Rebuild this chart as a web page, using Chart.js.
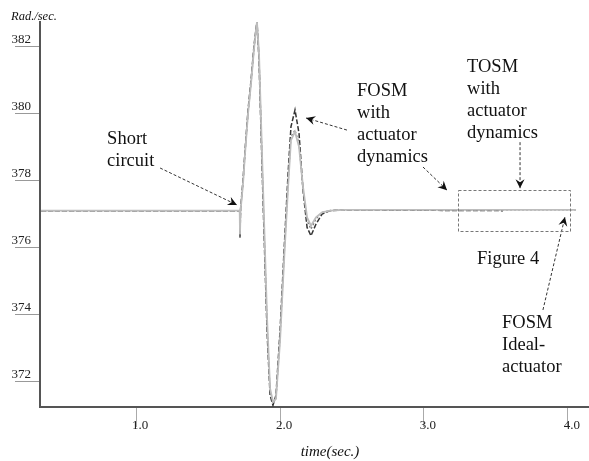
<!DOCTYPE html>
<html>
<head>
<meta charset="utf-8">
<script src="https://cdn.jsdelivr.net/npm/chart.js@4.4.1/dist/chart.umd.min.js"></script>
<style>
  body { margin: 0; background: #fff; }
  canvas { display: block; }
</style>
</head>
<body>
<canvas id="graph" width="589" height="461"></canvas>
<script>
// time axis (sec.)
const times = [0.34, 1.72, 1.722, 1.726, 1.743, 1.757, 1.778, 1.799, 1.819, 1.840,
  1.854, 1.882, 1.910, 1.931, 1.951, 1.972, 2.000, 2.028, 2.056, 2.076,
  2.104, 2.132, 2.160, 2.188, 2.215, 2.250, 2.292, 2.347, 2.451, 3.549, 4.056];

// speed (Rad./sec.)
const fosmActuator = [377.1, 377.1, 376.3, 377.15, 378.0, 378.9, 380.1, 381.0, 382.0, 382.75,
  381.6, 377.4, 373.5, 371.6, 371.3, 371.6, 373.5, 375.9, 378.2, 379.6,
  380.1, 379.4, 377.7, 376.6, 376.35, 376.7, 377.0, 377.1, 377.12, 377.1, null];
const tosmActuator = [377.1, 377.1, 376.3, 377.15, 377.9, 378.8, 380.0, 380.9, 381.9, 382.7,
  381.7, 377.6, 373.7, 371.7, 371.35, 371.5, 373.3, 375.7, 377.9, 379.3,
  379.5, 379.1, 377.7, 376.8, 376.55, 376.85, 377.05, 377.1, 377.12, 377.12, 377.12];
const fosmIdeal = [377.1, 377.1, 376.4, 377.1, 377.9, 378.8, 380.0, 380.9, 381.9, 382.72,
  381.8, 377.8, 373.9, 371.8, 371.4, 371.5, 373.2, 375.6, 377.8, 379.2,
  379.45, 379.0, 377.8, 376.9, 376.65, 376.9, 377.05, 377.1, 377.12, 377.12, 377.12];

const xTicks = [1, 2, 3, 4];
const yTicks = [372, 374, 376, 378, 380, 382];

const serif = 'Liberation Serif';

function points(vals) {
  return times.map((t, i) => ({ x: t, y: vals[i] }));
}

// annotations, placed in data units
const notes = [
  { text: ['Short', 'circuit'], x: 0.799, y: 379.23 },
  { text: ['FOSM', 'with', 'actuator', 'dynamics'], x: 2.535, y: 380.66 },
  { text: ['TOSM', 'with', 'actuator', 'dynamics'], x: 3.299, y: 381.375 },
  { text: ['Figure 4'], x: 3.368, y: 375.66 },
  { text: ['FOSM', 'Ideal-', 'actuator'], x: 3.542, y: 373.76 }
];
const arrows = [
  [1.167, 378.37, 1.701, 377.27],
  [2.465, 379.5, 2.181, 379.86],
  [2.993, 378.40, 3.160, 377.71],
  [3.667, 379.14, 3.667, 377.77],
  [3.826, 374.14, 3.979, 376.91]
];
const zoomBox = [3.236, 377.71, 4.014, 376.49];

const annotate = {
  id: 'annotate',
  afterDatasetsDraw(chart) {
    const ctx = chart.ctx;
    const sx = chart.scales.x, sy = chart.scales.y;
    const px = v => sx.getPixelForValue(v);
    const py = v => sy.getPixelForValue(v);
    ctx.save();

    // notes
    ctx.fillStyle = '#111';
    ctx.font = '18.5px "' + serif + '"';
    ctx.textAlign = 'left';
    ctx.textBaseline = 'middle';
    notes.forEach(n => {
      n.text.forEach((line, i) => ctx.fillText(line, px(n.x), py(n.y) + i * 22));
    });

    // dashed arrows
    ctx.strokeStyle = '#333';
    ctx.lineWidth = 1;
    arrows.forEach(a => {
      const x1 = px(a[0]), y1 = py(a[1]), x2 = px(a[2]), y2 = py(a[3]);
      ctx.setLineDash([3, 2]);
      ctx.beginPath();
      ctx.moveTo(x1, y1);
      ctx.lineTo(x2, y2);
      ctx.stroke();
      ctx.setLineDash([]);
      const ang = Math.atan2(y2 - y1, x2 - x1);
      ctx.save();
      ctx.translate(x2, y2);
      ctx.rotate(ang);
      ctx.fillStyle = '#111';
      ctx.beginPath();
      ctx.moveTo(0, 0);
      ctx.lineTo(-9, -4.5);
      ctx.lineTo(-6, 0);
      ctx.lineTo(-9, 4.5);
      ctx.closePath();
      ctx.fill();
      ctx.restore();
    });

    // zoom rectangle
    ctx.strokeStyle = '#777';
    ctx.setLineDash([3, 2]);
    const rx = px(zoomBox[0]), ry = py(zoomBox[1]);
    ctx.strokeRect(Math.round(rx) + 0.5, Math.round(ry) + 0.5,
      Math.round(px(zoomBox[2]) - rx), Math.round(py(zoomBox[3]) - ry));
    ctx.setLineDash([]);

    // axis titles
    ctx.fillStyle = '#111';
    ctx.font = 'italic 12.5px "' + serif + '"';
    ctx.textAlign = 'left';
    ctx.fillText('Rad./sec.', 11, 17);
    ctx.font = 'italic 15px "' + serif + '"';
    ctx.textAlign = 'center';
    ctx.fillText('time(sec.)', 330, 452);
    ctx.restore();
  }
};

const config = {
  type: 'line',
  data: {
    datasets: [
      {
        label: 'FOSM Ideal-actuator',
        data: points(fosmIdeal),
        borderColor: '#bdbdbd',
        borderWidth: 1.8
      },
      {
        label: 'TOSM with actuator dynamics',
        data: points(tosmActuator),
        borderColor: '#7a7a7a',
        borderWidth: 1.3,
        borderDash: [2, 2]
      },
      {
        label: 'FOSM with actuator dynamics',
        data: points(fosmActuator),
        borderColor: '#333',
        borderWidth: 1.5,
        borderDash: [5, 2]
      }
    ]
  },
  options: {
    responsive: false,
    animation: false,
    events: [],
    elements: { point: { radius: 0 }, line: { tension: 0 } },
    layout: { padding: { top: 22, right: 0, left: 0, bottom: 0 } },
    plugins: { legend: { display: false }, tooltip: { enabled: false } },
    scales: {
      x: {
        type: 'linear',
        min: 0.333,
        max: 4.146,
        afterBuildTicks: s => { s.ticks = xTicks.map(v => ({ value: v })); },
        afterFit: s => { s.height = 54; },
        border: { color: '#555', width: 2 },
        grid: { drawOnChartArea: false, tickLength: 20, color: '#aaa' },
        ticks: {
          autoSkip: false, maxRotation: 0, padding: -9, labelOffset: 4,
          color: '#222', font: { family: serif, size: 13 },
          callback: v => v.toFixed(1)
        }
      },
      y: {
        type: 'linear',
        min: 371.25,
        max: 382.72,
        afterBuildTicks: s => { s.ticks = yTicks.map(v => ({ value: v })); },
        afterFit: s => { s.width = 40; },
        border: { color: '#555', width: 2 },
        grid: { drawOnChartArea: false, tickLength: 25, color: '#999' },
        ticks: {
          padding: -16, labelOffset: -7,
          color: '#222', font: { family: serif, size: 13 },
          callback: v => String(v)
        }
      }
    }
  },
  plugins: [annotate]
};

const speedChart = new Chart(document.getElementById('graph'), config);
</script>
</body>
</html>
